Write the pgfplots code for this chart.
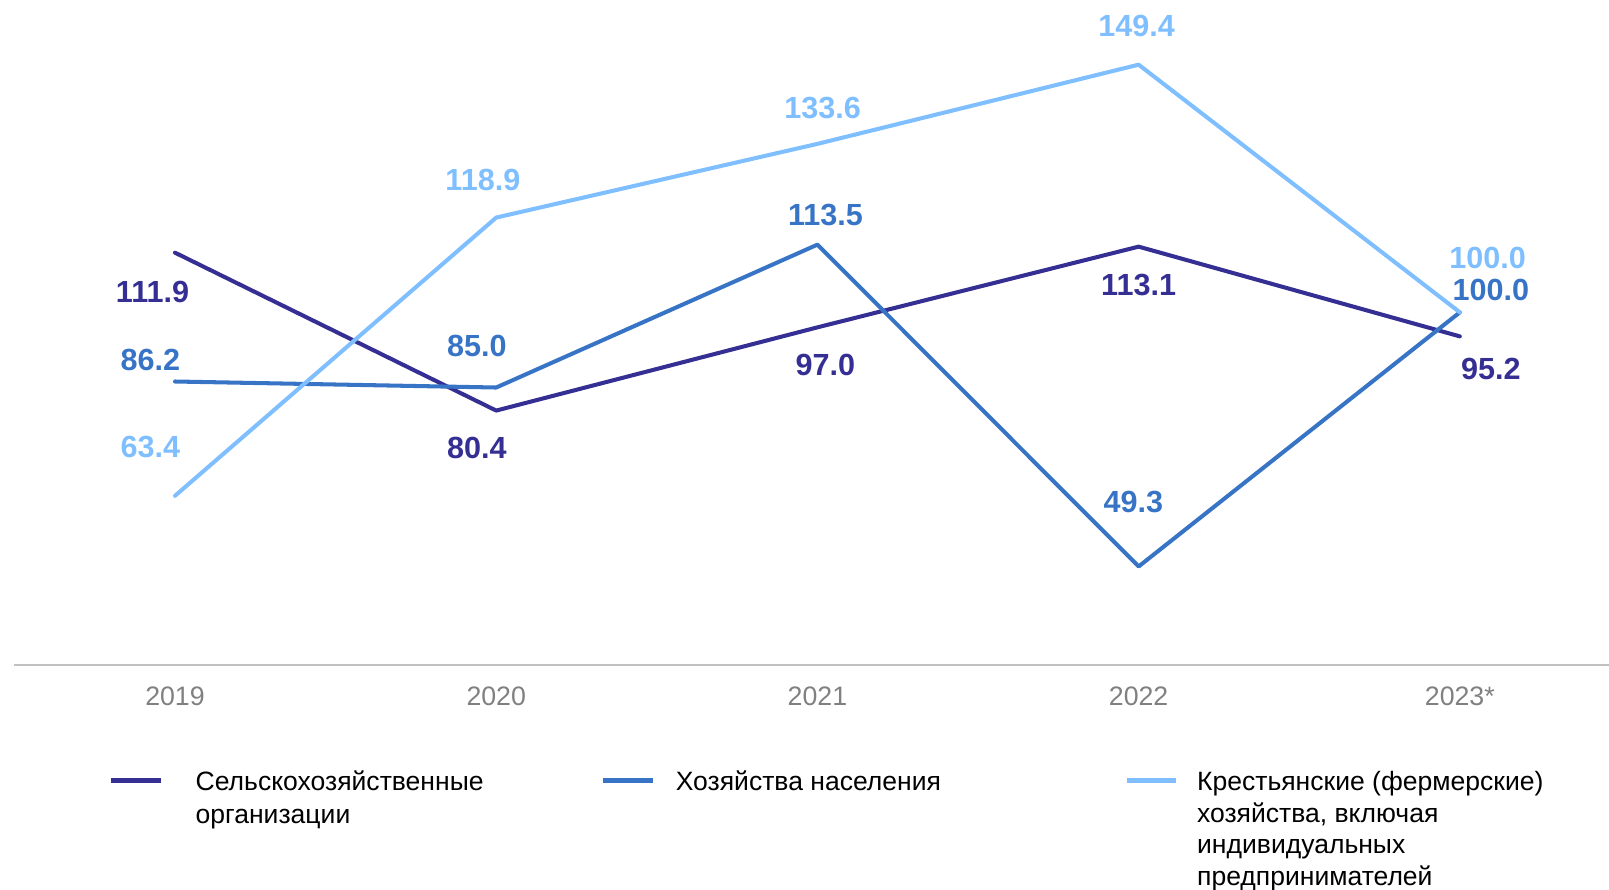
\documentclass[border=0pt]{standalone}
\usepackage{fontspec}
\setmainfont{Liberation Sans}
\usepackage{pgfplots}
\pgfplotsset{compat=1.18}
\definecolor{cA}{RGB}{53,47,148}
\definecolor{cB}{RGB}{56,116,198}
\definecolor{cC}{RGB}{127,191,255}
\definecolor{tickgray}{RGB}{128,128,128}
\definecolor{axgray}{RGB}{192,192,192}
\pgfplotsset{
  lab/.style={
    line width=1.15pt, line cap=round, line join=round, mark=none,
    nodes near coords, point meta=explicit symbolic,
    visualization depends on={value \thisrow{dx}\as\dx},
    visualization depends on={value \thisrow{dy}\as\dy},
    every node near coord/.append style={anchor=center, inner sep=0pt,
      xshift=\dx pt, yshift=\dy pt, text=#1,
      font=\fontsize{8.7}{10}\selectfont\bfseries},
    color=#1
  }
}
\begin{document}
\begin{tikzpicture}
\useasboundingbox (0,0) rectangle (160.9mm,88.9mm);
\begin{axis}[
  at={(1.44mm,22.4mm)}, anchor=south west,
  scale only axis, width=159.46mm, height=66.5mm,
  xmin=-0.5, xmax=4.4645, ymin=29.65, ymax=162.3,
  axis y line=none, axis x line=bottom,
  x axis line style={-, draw=axgray, line width=0.8pt},
  xtick={0,1,2,3,4}, xticklabels={2019,2020,2021,2022,2023*},
  xtick style={draw=none},
  xticklabel style={anchor=base, yshift=-3.3mm, text=tickgray,
    font=\fontsize{7.6}{9}\selectfont},
  clip=false,
]
\addplot[lab=cA] table[meta=lab] {
x y dx dy lab
0 111.9 -6.4 -11.1 111.9
1 80.4 -5.5 -10.5 80.4
2 97.0 2.3 -10.8 97.0
3 113.1 0 -10.8 113.1
4 95.2 8.8 -9.3 95.2
};
\addplot[lab=cB] table[meta=lab] {
x y dx dy lab
0 86.2 -7.0 6.1 86.2
1 85.0 -5.5 11.7 85.0
2 113.5 2.3 8.5 113.5
3 49.3 -1.5 18.4 49.3
4 100.0 8.8 6.4 100.0
};
\addplot[lab=cC] table[meta=lab] {
x y dx dy lab
0 63.4 -7.0 14.0 63.4
1 118.9 -3.8 10.8 118.9
2 133.6 1.5 10.2 133.6
3 149.4 -0.6 11.1 149.4
4 100.0 7.9 15.5 100.0
};
\end{axis}
% legend
\begin{scope}[font=\fontsize{7.55}{9}\selectfont]
\draw[cA, line width=1.4pt] (11.08mm,10.82mm) -- (16.11mm,10.82mm);
\node[anchor=base west, inner sep=0] at (19.5mm,9.85mm) {Сельскохозяйственные};
\node[anchor=base west, inner sep=0] at (19.5mm,6.52mm) {организации};
\draw[cB, line width=1.4pt] (60.33mm,10.82mm) -- (65.26mm,10.82mm);
\node[anchor=base west, inner sep=0] at (67.51mm,9.85mm) {Хозяйства населения};
\draw[cC, line width=1.4pt] (112.66mm,10.82mm) -- (117.59mm,10.82mm);
\node[anchor=base west, inner sep=0] at (119.64mm,9.85mm) {Крестьянские (фермерские)};
\node[anchor=base west, inner sep=0] at (119.64mm,6.70mm) {хозяйства, включая};
\node[anchor=base west, inner sep=0] at (119.64mm,3.55mm) {индивидуальных};
\node[anchor=base west, inner sep=0] at (119.64mm,0.40mm) {предпринимателей};
\end{scope}
\end{tikzpicture}
\end{document}
